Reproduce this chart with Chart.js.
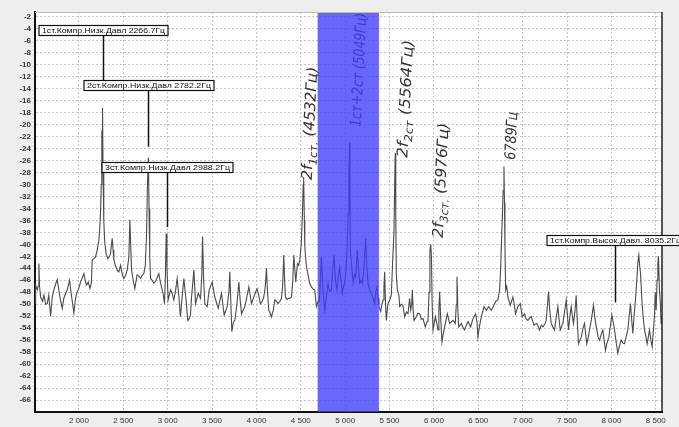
<!DOCTYPE html>
<html>
<head>
<meta charset="utf-8">
<script src="https://cdn.jsdelivr.net/npm/chart.js@4.4.1/dist/chart.umd.min.js"></script>
<style>
  html, body { margin: 0; padding: 0; background: #eeeeee; }
  #wrap { width: 679px; height: 427px; }
</style>
</head>
<body>
<div id="wrap"><canvas id="spec" width="679" height="427"></canvas></div>
<script>
// spectrum: [frequency Hz, level dB]
const spectrum = [
  [1505,-49.8],[1512,-46.8],[1531,-47.6],[1540,-47],[1549,-43.2],[1556,-47],[1568,-48.8],[1590,-49.5],
  [1606,-48.5],[1625,-50],[1643,-49.9],[1660,-48.5],[1681,-52],[1699,-48.8],[1720,-47.5],[1740,-46.5],
  [1756,-45.9],[1775,-47.8],[1795,-49.5],[1812,-50.7],[1830,-49],[1850,-48.2],[1870,-47.5],[1895,-46],
  [1915,-48.5],[1930,-50],[1943,-51.5],[1958,-49.5],[1973,-48.2],[1995,-47.5],[2018,-46.3],[2040,-45.5],
  [2056,-44.9],[2070,-46],[2086,-46.8],[2105,-46.3],[2124,-47.4],[2140,-46.5],[2150,-42.6],[2170,-42.4],
  [2187,-42.1],[2205,-41],[2225,-39.3],[2236,-37],[2244,-34.3],[2252,-30],[2258,-21],[2262,-26],
  [2266,-17.2],[2272,-28],[2280,-36],[2289,-39.3],[2305,-41.5],[2326,-42.4],[2345,-42],[2356,-41.5],
  [2375,-39],[2385,-41],[2394,-42.6],[2410,-43.5],[2431,-44.3],[2450,-44.6],[2469,-43.5],[2488,-45],
  [2506,-45.7],[2525,-45.2],[2544,-44.3],[2563,-42],[2574,-35.9],[2583,-40],[2593,-44.3],[2612,-46],
  [2630,-47.4],[2645,-46],[2656,-45.1],[2675,-45.3],[2694,-45.7],[2712,-45.2],[2731,-44.9],[2748,-43.5],
  [2762,-38.2],[2772,-30],[2782,-25.5],[2790,-34],[2798,-42],[2807,-45.7],[2825,-46],[2844,-46.5],
  [2870,-46],[2900,-44.9],[2920,-46.5],[2938,-47.6],[2952,-48.5],[2964,-49.9],[2975,-45],[2983,-38.2],
  [2992,-44],[3005,-49.3],[3018,-48.5],[3032,-47.6],[3050,-48.2],[3069,-49.3],[3088,-47.8],[3107,-45.7],
  [3125,-48.5],[3144,-52.1],[3162,-49],[3182,-45.7],[3205,-49],[3227,-52.7],[3240,-52.5],[3257,-51.8],
  [3269,-48.8],[3280,-47],[3295,-44.3],[3314,-49.9],[3344,-48.2],[3370,-49],[3385,-45],[3393,-38.7],
  [3405,-46],[3419,-49.9],[3445,-50.4],[3468,-47.6],[3501,-46.3],[3531,-48.8],[3569,-50.7],[3606,-48.2],
  [3637,-51.8],[3670,-50.4],[3690,-48],[3700,-44.6],[3712,-50],[3723,-54.6],[3740,-53],[3757,-52.7],
  [3780,-50],[3802,-46.3],[3815,-49],[3832,-51.6],[3850,-51],[3869,-50.4],[3890,-49],[3914,-47.1],
  [3930,-48.5],[3944,-49.9],[3971,-48.8],[3990,-48],[4008,-47.4],[4025,-48.5],[4046,-49.9],[4065,-49.5],
  [4083,-48.8],[4100,-47],[4113,-44],[4125,-48],[4139,-51],[4155,-51.5],[4169,-52.1],[4190,-51],
  [4207,-49.3],[4225,-49.5],[4245,-49.9],[4265,-49.5],[4282,-49],[4295,-47],[4308,-41.8],[4318,-46],
  [4327,-48.8],[4345,-49.2],[4365,-49],[4380,-49],[4395,-48.8],[4410,-46],[4421,-41.8],[4432,-44],
  [4443,-46.3],[4462,-43.2],[4476,-43.5],[4489,-42.6],[4505,-40],[4518,-35],[4527,-30],[4532,-28.8],
  [4540,-36],[4545,-40.4],[4562,-43.5],[4582,-45.1],[4600,-46.5],[4620,-47.1],[4640,-47.5],[4657,-47.6],
  [4676,-50.4],[4695,-49.5],[4710,-49.5],[4732,-42.1],[4752,-48],[4770,-51],[4790,-48.5],[4807,-46.5],
  [4825,-47.8],[4845,-47.6],[4862,-44],[4875,-41.8],[4890,-46],[4908,-47.6],[4925,-45],[4938,-43.8],
  [4952,-46],[4968,-48.2],[4982,-47],[4995,-46.5],[5010,-44],[5021,-41],[5034,-35],[5043,-28],
  [5049,-23],[5054,-30],[5059,-41],[5075,-44],[5089,-46.5],[5105,-45],[5119,-45.4],[5128,-43],
  [5137,-41],[5150,-44],[5164,-46.5],[5180,-46],[5194,-46.5],[5212,-44],[5231,-39],[5242,-43],
  [5257,-46.5],[5275,-47.5],[5295,-48.2],[5315,-49],[5333,-49.9],[5345,-48],[5359,-47.1],[5370,-49],
  [5381,-50.4],[5400,-51.2],[5415,-50],[5427,-49.3],[5437,-47],[5445,-44.6],[5455,-50],[5464,-52.7],
  [5480,-50],[5502,-49.3],[5520,-48.5],[5536,-42.5],[5550,-38],[5558,-30],[5564,-24.8],[5570,-35],
  [5576,-44.9],[5588,-47.6],[5606,-48.5],[5614,-50.4],[5635,-50],[5652,-50.3],[5671,-52.1],[5690,-51.3],
  [5708,-51.6],[5726,-49],[5738,-51],[5750,-50],[5757,-47.6],[5766,-51],[5776,-52.7],[5802,-52.1],
  [5820,-51.5],[5839,-51.6],[5858,-52.5],[5877,-52.4],[5903,-53.8],[5920,-53],[5933,-52.9],[5945,-48],
  [5955,-41],[5964,-40],[5972,-42],[5980,-50],[5990,-54.3],[6016,-52.1],[6030,-53],[6046,-54.3],
  [6056,-51],[6065,-47.9],[6075,-52],[6091,-56.3],[6105,-55],[6121,-53.8],[6151,-51.6],[6177,-53.2],
  [6195,-53],[6215,-52.7],[6241,-53.2],[6252,-50],[6260,-45.4],[6270,-51],[6279,-53.8],[6309,-53.2],
  [6330,-54],[6346,-54.3],[6365,-53.5],[6384,-52.9],[6414,-53.8],[6440,-52.4],[6470,-51.6],[6485,-53],
  [6496,-55.5],[6510,-54],[6526,-52.7],[6545,-51.5],[6564,-50.4],[6590,-51],[6616,-50.4],[6646,-51],
  [6665,-50.5],[6684,-49.9],[6700,-49.5],[6721,-49.3],[6740,-47.6],[6752,-44],[6762,-39.3],[6772,-35],
  [6780,-31],[6789,-27],[6795,-33],[6800,-40],[6808,-47.6],[6820,-47],[6834,-48.8],[6860,-50.2],
  [6890,-48.8],[6905,-50],[6920,-51.6],[6946,-50.4],[6973,-49.9],[6995,-52.1],[7021,-51.6],[7040,-52.5],
  [7059,-52.7],[7080,-52.3],[7097,-52.1],[7127,-53.5],[7160,-53.2],[7190,-54.3],[7210,-53.5],[7228,-53.8],
  [7250,-53.3],[7265,-52.7],[7280,-50],[7292,-47.9],[7305,-51],[7322,-53.2],[7340,-53.8],[7359,-54.3],
  [7380,-52],[7397,-50.4],[7410,-52.5],[7423,-54.3],[7453,-53.2],[7475,-51],[7491,-49.3],[7505,-52],
  [7517,-54.3],[7532,-52],[7547,-50.4],[7560,-52],[7573,-53.2],[7590,-51],[7603,-48.5],[7616,-53],
  [7629,-56.6],[7645,-56],[7660,-55.5],[7680,-54],[7697,-53.2],[7710,-55],[7723,-56.6],[7740,-55.5],
  [7753,-54.3],[7775,-52.5],[7798,-50.2],[7815,-52.5],[7836,-54.3],[7850,-55.5],[7866,-56],[7885,-55],
  [7903,-54.3],[7918,-56],[7933,-57.7],[7950,-56.5],[7971,-55.5],[7990,-53.5],[8005,-51.8],[8020,-53],
  [8035,-54.3],[8055,-56.5],[8072,-58.2],[8090,-57],[8110,-56],[8130,-56.5],[8147,-56.6],[8165,-55.5],
  [8185,-54.3],[8200,-52],[8215,-49.9],[8228,-52.5],[8241,-54.9],[8255,-52],[8271,-49.3],[8286,-46],
  [8298,-43],[8309,-41.8],[8318,-43.5],[8328,-44.9],[8346,-50],[8360,-52.5],[8373,-54.3],[8390,-55.5],
  [8403,-56.6],[8416,-55.5],[8429,-54.3],[8445,-56],[8459,-57.1],[8472,-54.5],[8485,-52.1],[8494,-48],
  [8504,-51],[8514,-46],[8523,-43.2],[8530,-42],[8541,-47.6],[8552,-50],[8560,-53.2],[8568,-52]
];

const xTicks = [2000, 2500, 3000, 3500, 4000, 4500, 5000, 5500, 6000, 6500, 7000, 7500, 8000, 8500];
const yTicks = [-66, -64, -62, -60, -58, -56, -54, -52, -50, -48, -46, -44, -42, -40, -38, -36, -34,
  -32, -30, -28, -26, -24, -22, -20, -18, -16, -14, -12, -10, -8, -6, -4, -2];

// highlighted band (Hz)
const bandFrom = 4690;
const bandTo = 5380;

// boxed markers
const markerFreqs = [2266.7, 2782.2, 2988.2, 8035.2];
const markerTexts = [
  "1ст.Компр.Низк.Давл 2266.7Гц",
  "2ст.Компр.Низк.Давл 2782.2Гц",
  "3ст.Компр.Низк.Давл 2988.2Гц",
  "1ст.Компр.Высок.Давл. 8035.2Гц"
];
const markerTop = [-3.3, -12.5, -26.2, -38.5];
const markerEnd = [-14.4, -23.7, -37.1, -49.7];

// handwritten notes: main text, subscript, rest
const noteFreqs = [4532, 5049, 5564, 5976, 6789];
const noteMain = ["2f", "1ст+2ст (5049Гц)", "2f", "2f", "6789Гц"];
const noteSub = ["1ст.", "", "2ст", "3ст.", ""];
const noteRest = [" (4532Гц)", "", " (5564Гц)", " (5976Гц)", ""];

function fmtHz(v) {
  return String(v).replace(/\B(?=(\d{3})+(?!\d))/g, " ");
}

const paperPlugin = {
  id: "paper",
  beforeDraw(chart) {
    const { ctx, chartArea: a } = chart;
    ctx.save();
    ctx.fillStyle = "#eeeeee";
    ctx.fillRect(0, 0, chart.width, chart.height);
    ctx.fillStyle = "#ffffff";
    ctx.fillRect(a.left, a.top, a.right - a.left, a.bottom - a.top);
    ctx.restore();
  },
  afterDatasetsDraw(chart) {
    const { ctx, chartArea: a } = chart;
    const xs = chart.scales.x, ys = chart.scales.y;
    const hand = '"DejaVu Sans Condensed", "Liberation Sans Narrow", "DejaVu Sans", sans-serif';

    // handwritten notes (rotated, reading bottom to top)
    const noteDx = [8, 11, 12, 11, 11];
    const noteY = [180, 127, 158, 238, 160];
    const noteLen = [113, 114, 118, 115, 48];
    ctx.save();
    ctx.fillStyle = "#333333";
    ctx.textBaseline = "alphabetic";
    for (let i = 0; i < noteFreqs.length; i++) {
      const px = xs.getPixelForValue(noteFreqs[i]) + noteDx[i];
      ctx.save();
      ctx.translate(px, noteY[i]);
      ctx.rotate(-Math.PI / 2 + 0.05);
      const big = "italic 15px " + hand;
      const small = "italic 11px " + hand;
      ctx.font = big;
      let w = ctx.measureText(noteMain[i] + noteRest[i]).width;
      ctx.font = small;
      w += ctx.measureText(noteSub[i]).width;
      ctx.scale(noteLen[i] / w, 1);
      let x = 0;
      ctx.font = big;
      ctx.fillText(noteMain[i], x, 0);
      x += ctx.measureText(noteMain[i]).width;
      if (noteSub[i]) {
        ctx.font = small;
        ctx.fillText(noteSub[i], x, 4);
        x += ctx.measureText(noteSub[i]).width;
      }
      if (noteRest[i]) {
        ctx.font = big;
        ctx.fillText(noteRest[i], x, 0);
      }
      ctx.restore();
    }
    ctx.restore();

    // blue band
    ctx.save();
    ctx.fillStyle = "rgba(60, 60, 250, 0.78)";
    const bx1 = xs.getPixelForValue(bandFrom), bx2 = xs.getPixelForValue(bandTo);
    ctx.fillRect(bx1, a.top, bx2 - bx1, a.bottom - a.top);
    ctx.restore();

    // top and right frame
    ctx.save();
    ctx.strokeStyle = "#bdbdbd";
    ctx.lineWidth = 1;
    ctx.beginPath();
    ctx.moveTo(a.left, a.top + 0.5);
    ctx.lineTo(a.right, a.top + 0.5);
    ctx.stroke();
    ctx.strokeStyle = "#222222";
    ctx.lineWidth = 1.5;
    ctx.beginPath();
    ctx.moveTo(a.right, a.top);
    ctx.lineTo(a.right, a.bottom);
    ctx.stroke();
    ctx.restore();

    // boxed markers with pointer lines
    const boxW = [129, 130, 131, 137];
    ctx.save();
    ctx.font = "8px 'Liberation Sans', Arial, sans-serif";
    ctx.textBaseline = "middle";
    for (let i = 0; i < markerFreqs.length; i++) {
      const px = Math.round(xs.getPixelForValue(markerFreqs[i])) + 0.5;
      const top = Math.round(ys.getPixelForValue(markerTop[i])) + 0.5;
      const h = 10;
      const bw = boxW[i];
      const tw = ctx.measureText(markerTexts[i]).width;
      const left = Math.round(px - bw / 2);
      ctx.strokeStyle = "#111111";
      ctx.lineWidth = 1.5;
      ctx.beginPath();
      ctx.moveTo(px, top + h);
      ctx.lineTo(px, ys.getPixelForValue(markerEnd[i]));
      ctx.stroke();
      ctx.fillStyle = "#ffffff";
      ctx.fillRect(left, top, bw, h);
      ctx.lineWidth = 1.2;
      ctx.strokeRect(left, top, bw, h);
      ctx.fillStyle = "#111111";
      ctx.save();
      ctx.translate(left + 3, top + h / 2 + 0.5);
      ctx.scale((bw - 6) / tw, 1);
      ctx.fillText(markerTexts[i], 0, 0);
      ctx.restore();
    }
    ctx.restore();
  }
};

new Chart(document.getElementById("spec"), {
  type: "line",
  data: {
    datasets: [{
      data: spectrum.map(p => ({ x: p[0], y: p[1] })),
      borderColor: "#4a4a4a",
      borderWidth: 1.1,
      pointRadius: 0,
      tension: 0,
      fill: false
    }]
  },
  plugins: [paperPlugin],
  options: {
    responsive: false,
    animation: false,
    layout: { padding: { top: 12, right: 17, left: 0, bottom: 0 } },
    plugins: { legend: { display: false }, tooltip: { enabled: false } },
    scales: {
      x: {
        type: "linear",
        min: 1505,
        max: 8570,
        afterBuildTicks: s => { s.ticks = xTicks.map(v => ({ value: v })); },
        afterFit: s => { s.height = 15; },
        grid: { color: "#c4c4c4", lineWidth: 1, drawTicks: false },
        border: { color: "#111111", width: 2, dash: [2, 2] },
        ticks: {
          autoSkip: false,
          maxRotation: 0,
          padding: 4,
          color: "#333333",
          font: { family: "'Liberation Sans', Arial, sans-serif", size: 8 },
          callback: v => fmtHz(v)
        }
      },
      y: {
        type: "linear",
        min: -68,
        max: -1.2,
        afterBuildTicks: s => { s.ticks = yTicks.map(v => ({ value: v })); },
        afterFit: s => { s.width = 35; },
        grid: { color: "#c4c4c4", lineWidth: 1, drawTicks: false },
        border: { color: "#111111", width: 2, dash: [2, 2] },
        ticks: {
          autoSkip: false,
          padding: 4,
          color: "#333333",
          font: { family: "'Liberation Sans', Arial, sans-serif", size: 8, weight: "bold" }
        }
      }
    }
  }
});
</script>
</body>
</html>
